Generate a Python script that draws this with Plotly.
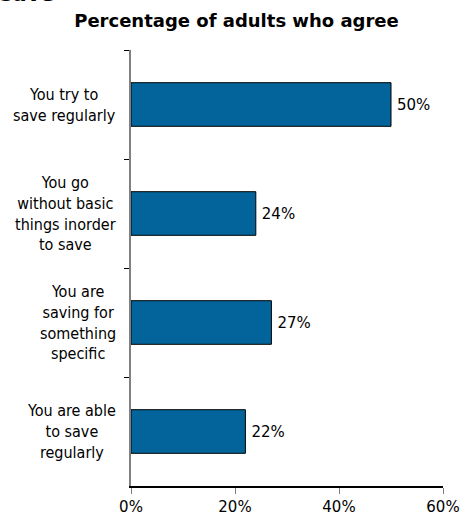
import plotly.graph_objects as go

# Survey statements and share of adults agreeing (%)
categories = [
    "You try to<br>save regularly",
    "You go<br>without basic<br>things inorder<br>to save",
    "You are<br>saving for<br>something<br>specific",
    "You are able<br>to save<br>regularly",
]
values = [50, 24, 27, 22]
x_ticks = [0, 20, 40, 60]
x_tick_labels = ["0%", "20%", "40%", "60%"]

W, H = 462, 520
L, R, T, B = 131, 19, 50, 34

BAR_COLOR = "#02649A"
LABEL_FONT = "DejaVu Sans Condensed, DejaVu Sans, sans-serif"
NUM_FONT = "DejaVu Sans, sans-serif"

fig = go.Figure()
fig.add_trace(go.Bar(
    y=categories,
    x=values,
    orientation="h",
    marker=dict(color=BAR_COLOR, line=dict(color="#000000", width=1)),
    text=[f"\u2009{v}%" for v in values],
    textposition="outside",
    textfont=dict(family=NUM_FONT, size=15, color="#000000"),
    cliponaxis=False,
    hoverinfo="skip",
))

# Category labels as centred text blocks to the left of the axis
for cat in categories:
    fig.add_annotation(
        x=0, xref="paper", xanchor="right", xshift=-13,
        y=cat, yref="y", yanchor="middle",
        text=cat, showarrow=False, align="center",
        font=dict(family=LABEL_FONT, size=16, color="#000000"),
    )

# Remnant of a heading cut off at the top edge
fig.add_annotation(
    x=0, xref="paper", xshift=-L - 2, xanchor="left",
    y=1, yref="paper", yshift=T - 8, yanchor="bottom",
    text="<b>save</b>", showarrow=False,
    font=dict(family=NUM_FONT, size=21, color="#000000"),
)

fig.update_layout(
    width=W, height=H,
    margin=dict(l=L, r=R, t=T, b=B, pad=0, autoexpand=False),
    paper_bgcolor="white", plot_bgcolor="white",
    showlegend=False,
    bargap=0.6,
    title=dict(
        text="<b>Percentage of adults who agree</b>",
        x=236.5 / W, xanchor="center", xref="container",
        y=1 - 21 / H, yanchor="middle", yref="container",
        font=dict(family=NUM_FONT, size=18, color="#000000"),
    ),
    xaxis=dict(
        range=[0, 60], tickvals=x_ticks, ticktext=x_tick_labels,
        showgrid=False, zeroline=False, automargin=False,
        showline=True, linecolor="#000000", linewidth=1.5,
        ticks="outside", ticklen=6, tickcolor="#808080", tickwidth=1,
        tickfont=dict(family=NUM_FONT, size=15, color="#000000"),
        fixedrange=True,
    ),
    yaxis=dict(
        categoryorder="array", categoryarray=categories,
        autorange="reversed", automargin=False,
        showticklabels=False,
        showgrid=False, zeroline=False,
        showline=True, linecolor="#808080", linewidth=1.5,
        ticks="outside", ticklen=5, tickcolor="#000000", tickwidth=1,
        tickson="boundaries",
        fixedrange=True,
    ),
)

fig.write_html("out.html")
